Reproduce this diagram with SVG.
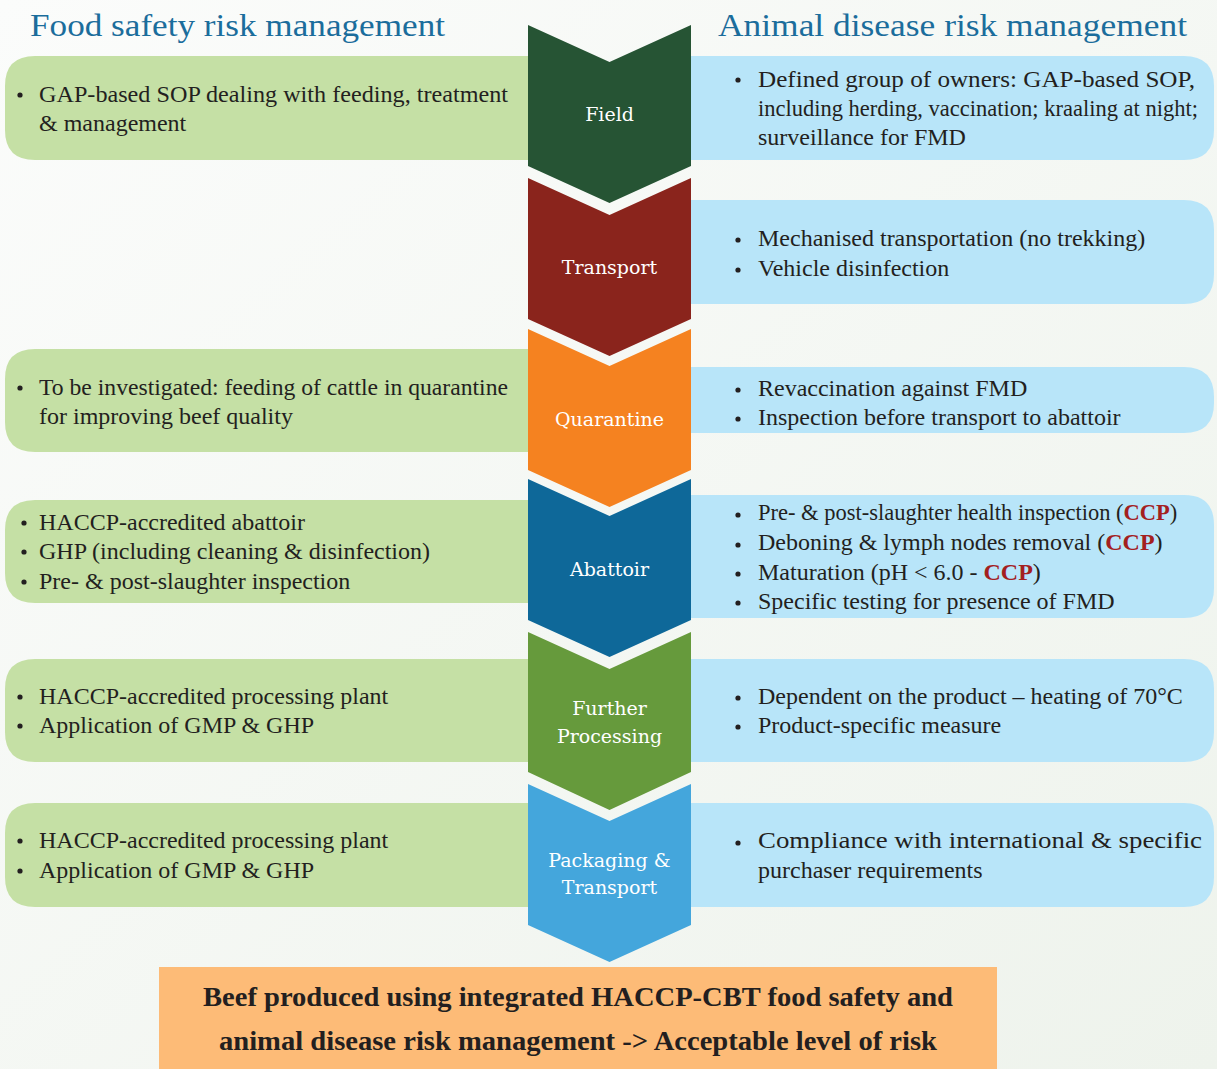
<svg xmlns="http://www.w3.org/2000/svg" width="1217" height="1069" viewBox="0 0 1217 1069">
<defs>
<linearGradient id="bg" x1="0" y1="0" x2="1" y2="1">
<stop offset="0" stop-color="#fbfcfb"/>
<stop offset="1" stop-color="#eef3ec"/>
</linearGradient>
<style>
.hdr{font-family:"Liberation Serif","DejaVu Serif",serif;font-size:32px;fill:#1b6d9c}
.t{font-family:"Liberation Serif","DejaVu Serif",serif;font-size:24px;fill:#231f20}
.ccp{font-weight:bold;fill:#a3201f}
.lbl{font-family:"DejaVu Serif","Liberation Serif",serif;font-size:19px;fill:#ffffff;text-anchor:middle}
.g{fill:#c5e0a5}
.b{fill:#b8e5f9}
.bt{font-family:"Liberation Serif","DejaVu Serif",serif;font-size:27px;font-weight:bold;fill:#231f20;text-anchor:middle}
</style>
</defs>
<rect x="0" y="0" width="1217" height="1069" fill="url(#bg)"/>
<g id="headers">
<text class="hdr" x="30" y="36" textLength="415" lengthAdjust="spacingAndGlyphs">Food safety risk management</text>
<text class="hdr" x="718" y="36" textLength="469" lengthAdjust="spacingAndGlyphs">Animal disease risk management</text>
</g>
<g id="connectors"></g>
<g id="food-boxes">
<g id="fs-field"><path class="g" d="M528,56 L35,56 Q5,56 5,86 L5,130 Q5,160 35,160 L528,160 Z"/>
<circle cx="20" cy="95" r="2.6" fill="#231f20"/>
<text class="t" x="39" y="102" textLength="469" lengthAdjust="spacingAndGlyphs">GAP-based SOP dealing with feeding, treatment</text>
<text class="t" x="39" y="131">&amp; management</text></g>
<g id="fs-quarantine"><path class="g" d="M528,349 L35,349 Q5,349 5,379 L5,422 Q5,452 35,452 L528,452 Z"/>
<circle cx="20" cy="388" r="2.6" fill="#231f20"/>
<text class="t" x="39" y="395" textLength="469" lengthAdjust="spacingAndGlyphs">To be investigated: feeding of cattle in quarantine</text>
<text class="t" x="39" y="424">for improving beef quality</text></g>
<g id="fs-abattoir"><path class="g" d="M528,500 L35,500 Q5,500 5,530 L5,573 Q5,603 35,603 L528,603 Z"/>
<circle cx="24" cy="523" r="2.6" fill="#231f20"/>
<circle cx="24" cy="552" r="2.6" fill="#231f20"/>
<circle cx="24" cy="582" r="2.6" fill="#231f20"/>
<text class="t" x="39" y="530">HACCP-accredited abattoir</text>
<text class="t" x="39" y="559">GHP (including cleaning &amp; disinfection)</text>
<text class="t" x="39" y="589">Pre- &amp; post-slaughter inspection</text></g>
<g id="fs-further"><path class="g" d="M528,659 L35,659 Q5,659 5,689 L5,732 Q5,762 35,762 L528,762 Z"/>
<circle cx="20" cy="697" r="2.6" fill="#231f20"/>
<circle cx="20" cy="726" r="2.6" fill="#231f20"/>
<text class="t" x="39" y="704">HACCP-accredited processing plant</text>
<text class="t" x="39" y="733">Application of GMP &amp; GHP</text></g>
<g id="fs-packaging"><path class="g" d="M528,803 L35,803 Q5,803 5,833 L5,877 Q5,907 35,907 L528,907 Z"/>
<circle cx="20" cy="841" r="2.6" fill="#231f20"/>
<circle cx="20" cy="871" r="2.6" fill="#231f20"/>
<text class="t" x="39" y="848">HACCP-accredited processing plant</text>
<text class="t" x="39" y="878">Application of GMP &amp; GHP</text></g>
</g>
<g id="disease-boxes">
<g id="ad-field"><path class="b" d="M691,56 L1184,56 Q1214,56 1214,86 L1214,130 Q1214,160 1184,160 L691,160 Z"/>
<circle cx="738" cy="80" r="2.6" fill="#231f20"/>
<text class="t" x="758" y="87" textLength="437" lengthAdjust="spacingAndGlyphs">Defined group of owners: GAP-based SOP,</text>
<text class="t" x="758" y="116" style="font-size:22.5px">including herding, vaccination; kraaling at night;</text>
<text class="t" x="758" y="145">surveillance for FMD</text></g>
<g id="ad-transport"><path class="b" d="M691,200 L1184,200 Q1214,200 1214,230 L1214,274 Q1214,304 1184,304 L691,304 Z"/>
<circle cx="738" cy="240" r="2.6" fill="#231f20"/>
<circle cx="738" cy="270" r="2.6" fill="#231f20"/>
<text class="t" x="758" y="246">Mechanised transportation (no trekking)</text>
<text class="t" x="758" y="276">Vehicle disinfection</text></g>
<g id="ad-quarantine"><path class="b" d="M691,367 L1184,367 Q1214,367 1214,397 L1214,403 Q1214,433 1184,433 L691,433 Z"/>
<circle cx="738" cy="390" r="2.6" fill="#231f20"/>
<circle cx="738" cy="419" r="2.6" fill="#231f20"/>
<text class="t" x="758" y="396">Revaccination against FMD</text>
<text class="t" x="758" y="425">Inspection before transport to abattoir</text></g>
<g id="ad-abattoir"><path class="b" d="M691,495 L1184,495 Q1214,495 1214,525 L1214,588 Q1214,618 1184,618 L691,618 Z"/>
<circle cx="738" cy="515" r="2.6" fill="#231f20"/>
<circle cx="738" cy="545" r="2.6" fill="#231f20"/>
<circle cx="738" cy="574" r="2.6" fill="#231f20"/>
<circle cx="738" cy="603" r="2.6" fill="#231f20"/>
<text class="t" x="758" y="520" style="font-size:22.5px">Pre- &amp; post-slaughter health inspection (<tspan class="ccp">CCP</tspan>)</text>
<text class="t" x="758" y="550">Deboning &amp; lymph nodes removal (<tspan class="ccp">CCP</tspan>)</text>
<text class="t" x="758" y="580">Maturation (pH &lt; 6.0 - <tspan class="ccp">CCP</tspan>)</text>
<text class="t" x="758" y="609">Specific testing for presence of FMD</text></g>
<g id="ad-further"><path class="b" d="M691,659 L1184,659 Q1214,659 1214,689 L1214,732 Q1214,762 1184,762 L691,762 Z"/>
<circle cx="738" cy="698" r="2.6" fill="#231f20"/>
<circle cx="738" cy="727" r="2.6" fill="#231f20"/>
<text class="t" x="758" y="704">Dependent on the product – heating of 70°C</text>
<text class="t" x="758" y="733">Product-specific measure</text></g>
<g id="ad-packaging"><path class="b" d="M691,803 L1184,803 Q1214,803 1214,833 L1214,877 Q1214,907 1184,907 L691,907 Z"/>
<circle cx="738" cy="843" r="2.6" fill="#231f20"/>
<text class="t" x="758" y="848" textLength="444" lengthAdjust="spacingAndGlyphs">Compliance with international &amp; specific</text>
<text class="t" x="758" y="878">purchaser requirements</text></g>
</g>
<g id="stages">
<g id="field"><path fill="#265434" d="M528,25 L609.5,62 L691,25 L691,166 L609.5,203 L528,166 Z"/>
<text class="lbl" x="609.5" y="121">Field</text></g>
<g id="transport"><path fill="#8a241c" d="M528,178 L609.5,215 L691,178 L691,319 L609.5,356 L528,319 Z"/>
<text class="lbl" x="609.5" y="274">Transport</text></g>
<g id="quarantine"><path fill="#f58220" d="M528,329 L609.5,366 L691,329 L691,470 L609.5,507 L528,470 Z"/>
<text class="lbl" x="609.5" y="426">Quarantine</text></g>
<g id="abattoir"><path fill="#0e6899" d="M528,479 L609.5,516 L691,479 L691,620 L609.5,657 L528,620 Z"/>
<text class="lbl" x="609.5" y="576">Abattoir</text></g>
<g id="further-processing"><path fill="#669a3c" d="M528,632 L609.5,669 L691,632 L691,772 L609.5,810 L528,772 Z"/>
<text class="lbl" x="609.5" y="715">Further</text>
<text class="lbl" x="609.5" y="743">Processing</text></g>
<g id="packaging"><path fill="#44a6dc" d="M528,784 L609.5,821 L691,784 L691,925 L609.5,962 L528,925 Z"/>
<text class="lbl" x="609.5" y="867">Packaging &amp;</text>
<text class="lbl" x="609.5" y="894">Transport</text></g>
</g>
<g id="result">
<rect x="159" y="967" width="838" height="102" fill="#fdbb77"/>
<text class="bt" x="578" y="1006" textLength="750" lengthAdjust="spacingAndGlyphs">Beef produced using integrated HACCP-CBT food safety and</text>
<text class="bt" x="578" y="1050" textLength="718" lengthAdjust="spacingAndGlyphs">animal disease risk management -&gt; Acceptable level of risk</text>
</g>
</svg>
